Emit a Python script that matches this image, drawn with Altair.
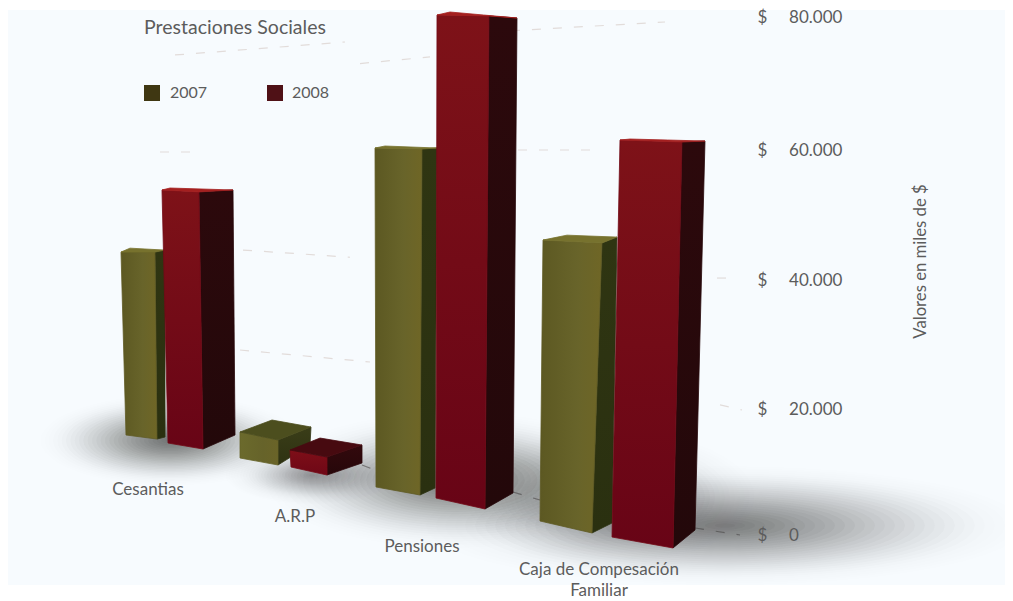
import math

import altair as alt
import pandas as pd

FONT = "Lato"
TEXT = "#5c5c5c"

categories = ["Cesantias", "A.R.P", "Pensiones", "Caja de Compesación"]
series = ["2007", "2008"]
bar_category = ["Cesantias", "Cesantias", "A.R.P", "A.R.P", "Pensiones", "Pensiones", "Caja", "Caja"]
bar_series = ["2007", "2008"] * 4

# Values as read against the right-hand axis (the perspective lowers the bases of nearer bars)
top_left_val = [44300, 53850, 16350, 13490, 60300, 80300, 46150, 61500]
top_right_val = [44300, 53550, 15080, 12380, 60150, 80150, 45700, 61200]
top_outer_val = [44600, 53850, 17140, 14280, 60300, 79850, 46600, 61350]
top_back_val = [44900, 54150, 18250, 15390, 60600, 80750, 46900, 61650]
base_left_val = [15870, 14600, 12220, 10790, 7620, 5870, 2220, -320]
base_right_val = [15235, 13650, 11110, 9520, 6350, 4130, 320, -2060]
base_outer_val = [15550, 15870, 14280, 11430, 7460, 6670, 1900, 790]

# Along-axis readings
top_left_x = [121, 162, 240, 290, 375, 437, 543, 620]
top_right_x = [155, 199, 278, 327, 422, 489, 602, 682]
top_outer_x = [165, 233, 311, 362, 437, 517, 617, 705]
top_back_x = [130, 170, 272, 320, 385, 450, 567, 630]
base_left_x = [126, 168, 240, 291, 376, 436, 540, 612]
base_right_x = [157, 203, 278, 327, 420, 485, 592, 673]
base_outer_x = [165, 235, 310, 362, 435, 513, 612, 695]

tick_values = [0, 20000, 40000, 60000, 80000]
tick_pixels = [527, 401, 272, 142, 9]

grid_x = [175, 360, 490, 160, 518, 243, 240, 717, 720, 362, 513, 695]
grid_x2 = [345, 430, 665, 195, 595, 350, 370, 730, 742, 375, 540, 740]
grid_v = [74290, 73000, 77750, 59690, 60000, 44610, 29150, 40300, 20630, 11110, 6820, 1110]
grid_v2 = [76240, 74000, 79250, 59690, 60000, 43500, 27290, 40300, 19840, 10320, 5550, 0]
grid_colors = ["#e2dcda"] * 9 + ["#9a9a9a"] * 3

shadow_cx = [170, 312, 455, 610, 725]
shadow_cy = [15000, 9500, 8700, 6000, 1500]
shadow_rx = [130, 90, 190, 150, 300]
shadow_ry = [7200, 4800, 10800, 11000, 9500]
shadow_alpha = [0.72, 0.5, 0.72, 0.5, 0.68]

label_text = ["Cesantias", "A.R.P", "Pensiones", "Caja de Compesación", "Familiar"]
label_x = [148, 295, 422, 599, 599]
label_v = [7140, 2860, -1900, -5550, -8900]

legend_x = [152, 275]
legend_text_x = [170, 292]
legend_v = [68570, 68570]
legend_colors = ["#3f3712", "#4f1116"]

xscale = alt.Scale(domain=[8, 1005], range=[0, 997], nice=False, zero=False)
yscale = alt.Scale(domain=tick_values, range=tick_pixels, nice=False, zero=False)
X = alt.X("x:Q", scale=xscale, axis=None)
X2 = alt.X2("x2:Q")
Y = alt.Y("v:Q", scale=yscale, axis=None)
Y2 = alt.Y2("v2:Q")


def stops(pairs):
    return [alt.GradientStop(color=c, offset=o) for o, c in pairs]


def vgrad(a, b):
    return alt.LinearGradient(gradient="linear", x1=0, x2=0, y1=0, y2=1, stops=stops([(0, a), (1, b)]))


def hgrad(a, b, c):
    return alt.LinearGradient(gradient="linear", x1=0, x2=1, y1=0, y2=0, stops=stops([(0, a), (0.6, b), (1, c)]))


def polygon_rows(pts):
    """Rows (v, x, x2) describing a convex polygon as a horizontal-orient area."""
    rows = []
    n = len(pts)
    for lv in sorted({p[1] for p in pts}):
        xs = []
        for i in range(n):
            (x0, v0), (x1, v1) = pts[i], pts[(i + 1) % n]
            if min(v0, v1) <= lv <= max(v0, v1):
                if v0 == v1:
                    xs += [x0, x1]
                else:
                    xs.append(x0 + (x1 - x0) * (lv - v0) / (v1 - v0))
        rows.append({"v": lv, "x": min(xs), "x2": max(xs)})
    return pd.DataFrame(rows)


def face(pts, fill, edge):
    return (
        alt.Chart(polygon_rows(pts))
        .mark_area(orient="horizontal", fill=fill, stroke=edge, strokeWidth=0.8, interpolate="linear")
        .encode(y=Y, x=X, x2=X2)
    )


def ellipse_rows(cx, cy, rx, ry, k=24):
    rows = []
    for i in range(k + 1):
        a = math.pi * i / k
        rows.append({"x": cx - rx * math.cos(a), "v": cy - ry * math.sin(a), "v2": cy + ry * math.sin(a)})
    return pd.DataFrame(rows)


layers = []

# panel
layers.append(
    alt.Chart(pd.DataFrame({"a": [0]}))
    .mark_rect(color="#f7fbfe")
    .encode(x=alt.value(0), x2=alt.value(997), y=alt.value(2), y2=alt.value(577))
)

# grid fragments
for gx, gx2, gv, gv2, gc in zip(grid_x, grid_x2, grid_v, grid_v2, grid_colors):
    layers.append(
        alt.Chart(pd.DataFrame({"x": [gx], "x2": [gx2], "v": [gv], "v2": [gv2]}))
        .mark_rule(color=gc, strokeWidth=1.2, strokeDash=[9, 12])
        .encode(x=X, x2=X2, y=Y, y2=Y2)
    )

# soft floor shadows: concentric translucent ellipses, fading out smoothly at the rim
RINGS = 30
for cx, cy, rx, ry, al in zip(shadow_cx, shadow_cy, shadow_rx, shadow_ry, shadow_alpha):
    k_total = -math.log(1 - al)
    for r in range(RINGS):
        f = 1 - r / RINGS
        op = 1 - math.exp(-k_total * 2 * (r + 1) / (RINGS * (RINGS + 1)))
        layers.append(
            alt.Chart(ellipse_rows(cx, cy, rx * f, ry * f))
            .mark_area(color="#4a4a4a", opacity=op, interpolate="linear")
            .encode(x=X, y=Y, y2=Y2)
        )

# bars
styles = {
    "2007": dict(front=hgrad("#5c5822", "#68642a", "#6f6626"), side=vgrad("#2f3512", "#2a3010"), top="#77722e",
                 edge="#5f5a24", sedge="#2c3211"),
    "2008": dict(front=vgrad("#7e1218", "#680416"), side=vgrad("#2c090c", "#23080a"), top="#a4201f",
                 edge="#720a16", sedge="#27090b"),
}
low_styles = {
    "2007": dict(front=hgrad("#6b6a2c", "#66632a", "#6a6428"), side=vgrad("#3a3d18", "#2e3212"), top="#4c4e1e",
                 edge="#66632a", sedge="#333616"),
    "2008": dict(front=vgrad("#7e0f18", "#6e0716"), side=vgrad("#33090d", "#26070a"), top="#470a10",
                 edge="#760b17", sedge="#2c080b"),
}
for i in range(len(bar_category)):
    tl = (top_left_x[i], top_left_val[i])
    tr = (top_right_x[i], top_right_val[i])
    to = (top_outer_x[i], top_outer_val[i])
    tb = (top_back_x[i], top_back_val[i])
    bl = (base_left_x[i], base_left_val[i])
    br = (base_right_x[i], base_right_val[i])
    bo = (base_outer_x[i], base_outer_val[i])
    st = (low_styles if bar_category[i] == "A.R.P" else styles)[bar_series[i]]
    layers.append(face([tr, to, bo, br], st["side"], st["sedge"]))
    layers.append(face([tl, tr, br, bl], st["front"], st["edge"]))
    layers.append(face([tl, tb, to, tr], st["top"], st["top"]))

# category labels
layers.append(
    alt.Chart(pd.DataFrame({"x": label_x, "v": label_v, "t": label_text}))
    .mark_text(font=FONT, fontSize=17, color=TEXT, align="center", baseline="middle")
    .encode(x=X, y=Y, text="t:N")
)

# title and legend
layers.append(
    alt.Chart(pd.DataFrame({"x": [144], "v": [78350], "t": ["Prestaciones Sociales"]}))
    .mark_text(font=FONT, fontSize=19.5, color=TEXT, align="left", baseline="middle")
    .encode(x=X, y=Y, text="t:N")
)
for lx, ltx, lv, lc, s in zip(legend_x, legend_text_x, legend_v, legend_colors, series):
    layers.append(
        alt.Chart(pd.DataFrame({"x": [lx], "v": [lv]}))
        .mark_square(size=256, color=lc, opacity=1)
        .encode(x=X, y=Y)
    )
    layers.append(
        alt.Chart(pd.DataFrame({"x": [ltx], "v": [lv], "t": [s]}))
        .mark_text(font=FONT, fontSize=16, color=TEXT, align="left", baseline="middle")
        .encode(x=X, y=Y, text="t:N")
    )

# value axis
axis = alt.Axis(
    orient="right",
    offset=-248,
    zindex=1,
    values=tick_values,
    labelExpr="'$\u00a0\u00a0\u00a0\u00a0\u00a0' + replace(format(datum.value, ','), ',', '.')",
    labelFont=FONT,
    labelFontSize=17,
    labelColor=TEXT,
    labelPadding=0,
    labelAlign="left",
    labelOverlap=False,
    ticks=False,
    domain=False,
    grid=False,
    title="Valores en miles de $",
    titleFont=FONT,
    titleFontSize=16.7,
    titleFontWeight="normal",
    titleColor=TEXT,
    titleAngle=270,
    titleX=163,
    titleY=253,
    titleAlign="center",
    titleBaseline="middle",
)
layers.append(
    alt.Chart(pd.DataFrame({"v": tick_values}))
    .mark_point(opacity=0)
    .encode(y=alt.Y("v:Q", scale=yscale, axis=axis))
)

chart = (
    alt.layer(*layers)
    .resolve_axis(y="independent", x="independent")
    .properties(
        width=997,
        height=592,
        padding=0,
        background="white",
        autosize=alt.AutoSizeParams(type="none"),
    )
    .configure_view(stroke=None)
)
chart.save("out.html", embed_options={"renderer": "svg", "actions": False})
